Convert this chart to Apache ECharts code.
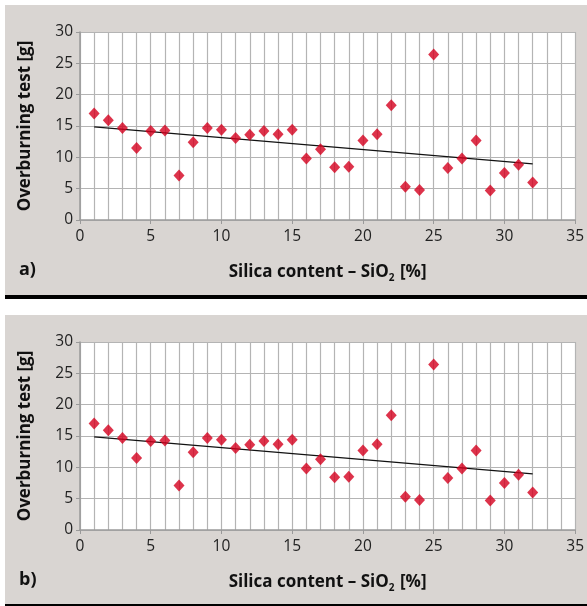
<!DOCTYPE html>
<html>
<head>
<meta charset="utf-8">
<script src="https://cdn.jsdelivr.net/npm/echarts@6/dist/echarts.min.js"></script>
<style>html,body{margin:0;padding:0;background:#fff;}#c{width:587px;height:606px;}</style>
</head>
<body>
<div id="c"></div>
<script>
const silica = [1,2,3,4,5,6,7,8,9,10,11,12,13,14,15,16,17,18,19,20,21,22,23,24,25,26,27,28,29,30,31,32];
const overburning = [17.0,15.9,14.7,11.5,14.2,14.3,7.1,12.4,14.7,14.4,13.1,13.6,14.2,13.7,14.4,9.8,11.3,8.4,8.5,12.7,13.7,18.3,5.3,4.8,26.4,8.3,9.8,12.7,4.7,7.5,8.8,6.0];
const trendX = [1,32];
const trendY = [14.85,8.95];
const xTicks = [0,5,10,15,20,25,30,35];
const yTicks = [0,5,10,15,20,25,30];
const panelLabels = ['a)','b)'];

const FONT = 'Open Sans';
const chart = echarts.init(document.getElementById('c'), null, {renderer:'canvas'});

const points = silica.map((x,i)=>[x, overburning[i]]);
const trend = trendX.map((x,i)=>[x, trendY[i]]);

const panelTops = [32, 342];
const grids = [], xAxes = [], yAxes = [], series = [], graphics = [];
panelTops.forEach((top, k) => {
  grids.push({left:80, top:top, width:496, height:188, show:true, backgroundColor:'#fff', borderWidth:0});
  xAxes.push({
    type:'value', gridIndex:k, min:xTicks[0], max:xTicks[xTicks.length-1], interval:5,
    axisLine:{show:true, lineStyle:{color:'#9a9a9a', width:1.5}},
    axisTick:{show:true, length:4, lineStyle:{color:'#9a9a9a'}},
    axisLabel:{color:'#222', fontSize:15.5, fontFamily:FONT, margin:9},
    splitLine:{show:true, lineStyle:{color:'#b4b4b4', width:1.2}},
    minorTick:{show:false, splitNumber:5},
    minorSplitLine:{show:true, lineStyle:{color:'#b4b4b4', width:1.2}},
    name:'{t|Silica content – SiO}{s|2}{t| [%]}', nameLocation:'middle', nameGap:42,
    nameTextStyle:{rich:{
      t:{fontSize:17, fontWeight:'bold', fontFamily:FONT, color:'#111', lineHeight:20},
      s:{fontSize:10, fontWeight:'bold', fontFamily:FONT, color:'#111', lineHeight:20, padding:[13,1,0,0]}
    }}
  });
  yAxes.push({
    type:'value', gridIndex:k, min:yTicks[0], max:yTicks[yTicks.length-1], interval:5,
    axisLine:{show:true, lineStyle:{color:'#9a9a9a', width:1.5}},
    axisTick:{show:true, length:4, lineStyle:{color:'#9a9a9a'}},
    axisLabel:{color:'#222', fontSize:15.5, fontFamily:FONT, margin:7},
    splitLine:{show:true, lineStyle:{color:'#b4b4b4', width:1.2}},
    name:'Overburning test [g]', nameLocation:'middle', nameGap:46, nameRotate:90,
    nameTextStyle:{fontSize:17, fontWeight:'bold', fontFamily:FONT, color:'#111'}
  });
  series.push({
    type:'line', xAxisIndex:k, yAxisIndex:k, data:trend, symbol:'none',
    lineStyle:{color:'#111', width:1.2}, z:2, silent:true
  });
  series.push({
    type:'scatter', xAxisIndex:k, yAxisIndex:k, data:points, symbol:'diamond',
    symbolSize:[11,12], itemStyle:{color:'#d4001e'}, z:3
  });
});

const bgTops = [5, 315], bgBottoms = [295, 604];
[0,1].forEach(k=>{
  graphics.push({type:'rect', z:-10, shape:{x:5, y:bgTops[k], width:582, height:bgBottoms[k]-bgTops[k]}, style:{fill:'#d9d5d2'}, silent:true});
  graphics.push({type:'rect', z:-9, shape:{x:5, y:bgBottoms[k], width:582, height:k===0?4:2}, style:{fill:'#000'}, silent:true});
  graphics.push({type:'text', z:5, left:19, top:(k===0?261:571), style:{text:panelLabels[k], fontSize:18, fontWeight:'bold', fontFamily:FONT, fill:'#111'}});
});

chart.setOption({
  backgroundColor:'#fff',
  animation:false,
  grid:grids, xAxis:xAxes, yAxis:yAxes, series:series, graphic:graphics
});
</script>
</body>
</html>
